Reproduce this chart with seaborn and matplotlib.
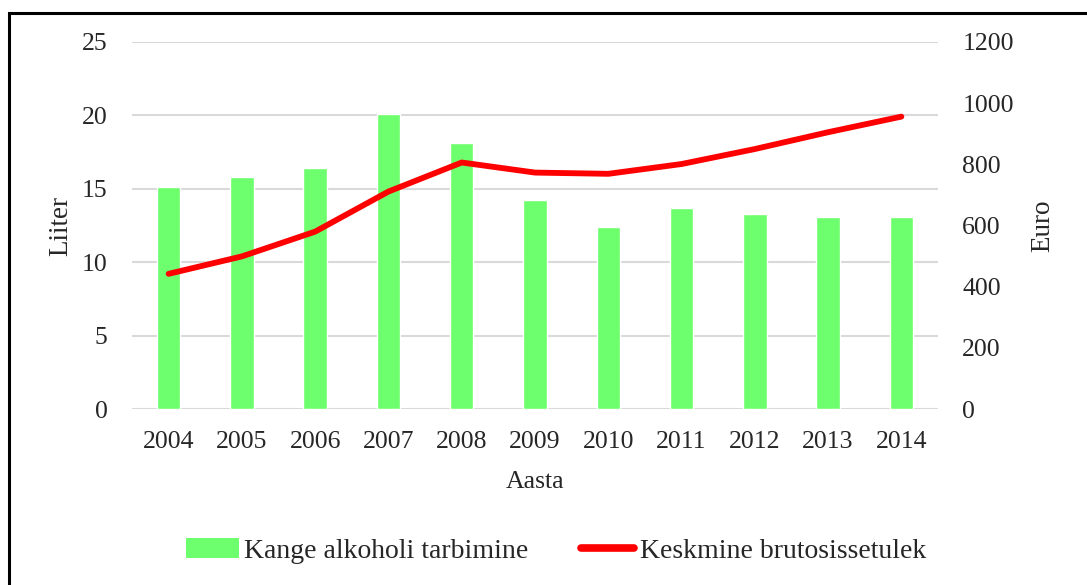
import numpy as np
import pandas as pd
import matplotlib
matplotlib.use("Agg")
import matplotlib.pyplot as plt
from matplotlib.patches import Rectangle, Patch
from matplotlib.lines import Line2D
import seaborn as sns

years = ["2004", "2005", "2006", "2007", "2008", "2009", "2010", "2011", "2012", "2013", "2014"]
alcohol = [15.1, 15.8, 16.4, 20.1, 18.1, 14.25, 12.4, 13.7, 13.3, 13.05, 13.1]
income = [442, 499, 580, 711, 806, 773, 769, 801, 850, 905, 956]

bar_label = "Kange alkoholi tarbimine"
line_label = "Keskmine brutosissetulek"

sns.set_theme(style="white")
plt.rcParams["font.family"] = ["Liberation Serif", "DejaVu Serif"]
FS = 18.5

df = pd.DataFrame({"Aasta": years, "alk": alcohol, "sis": income})

fig = plt.figure(figsize=(10.87, 5.85), dpi=100)
ax = fig.add_axes([132 / 1087, 1 - 409 / 585, (938 - 132) / 1087, (409 - 42) / 585])

sns.barplot(data=df, x="Aasta", y="alk", color="#6dff6d", saturation=1,
            width=0.32, ax=ax, zorder=2)
ax.set_ylim(0, 25)
ax.set_yticks(range(0, 26, 5))
ax.yaxis.grid(True, color="#d9d9d9", linewidth=1.5, zorder=0)
ax.set_axisbelow(True)
for s in ax.spines.values():
    s.set_visible(False)
ax.set_ylabel("Liiter", fontsize=19.5, labelpad=6)
ax.set_xlabel("Aasta", fontsize=FS, labelpad=13)
ax.tick_params(axis="x", length=0, pad=16, labelsize=FS)
ax.tick_params(axis="y", length=0, pad=17.5, labelsize=FS)

ax2 = ax.twinx()
sns.pointplot(data=df, x="Aasta", y="sis", color="#ff0000", markers="",
              linewidth=4.2, ax=ax2)
ax2.set_ylim(0, 1200)
ax2.set_yticks(range(0, 1201, 200))
ax2.set_xlim(-0.5, len(years) - 0.5)
for s in ax2.spines.values():
    s.set_visible(False)
ax2.grid(False)
ax2.set_ylabel("Euro", fontsize=19.5, labelpad=12)
ax2.tick_params(axis="y", length=0, pad=17.5, labelsize=FS)

handles = [Patch(facecolor="#6dff6d", edgecolor="none"),
           Line2D([], [], color="#ff0000", linewidth=5.5, solid_capstyle="round")]
fig.legend(handles, [bar_label, line_label], loc="center", ncol=2,
           bbox_to_anchor=(556 / 1087, 1 - 551 / 585), frameon=False,
           fontsize=20, handlelength=1.9, handleheight=0.75,
           handletextpad=0.2, columnspacing=1.9)

# outer frame (clipped at right and bottom as in the original)
fig.patches.append(Rectangle((9 / 1087, -0.1), 1.2, 1 - 12.5 / 585 + 0.1,
                             transform=fig.transFigure, fill=False,
                             edgecolor="black", linewidth=2.2))

fig.savefig("out.png", dpi=100)
